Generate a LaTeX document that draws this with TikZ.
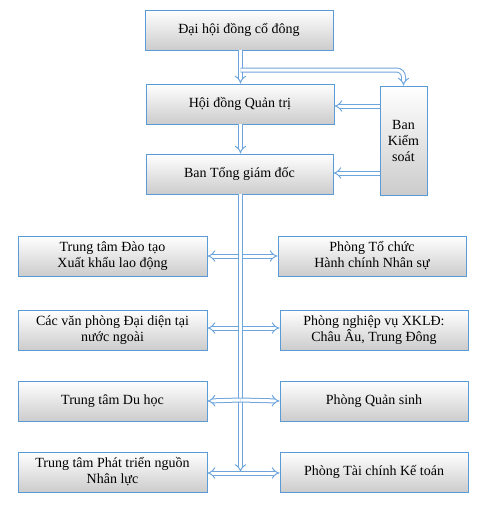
\documentclass[tikz,border=0pt]{standalone}
\usepackage{fontspec}
\setmainfont{Liberation Serif}
\usetikzlibrary{arrows.meta}
\definecolor{boxc}{RGB}{91,155,213}
\definecolor{arrc}{RGB}{110,165,220}
\begin{document}
\begin{tikzpicture}[x=1pt,y=-1pt,
  box/.style={draw=boxc, line width=0.9pt, top color=white, bottom color=black!20,
    align=center, inner sep=2pt, font=\fontsize{14}{16}\selectfont},
  dbl/.style={draw=arrc, double=white, double distance=3pt, line width=1pt,
    arrows={-Implies[length=5pt,width=10pt]}}]
\useasboundingbox (0,0) rectangle (488,512);
% boxes
\node[box, minimum width=188pt, minimum height=40pt] (dh) at (239,30) {Đại hội đồng cổ đông};
\node[box, minimum width=188pt, minimum height=40pt] (hd) at (240,104) {Hội đồng Quản trị};
\node[box, minimum width=187pt, minimum height=40pt] (tgd) at (239.5,174) {Ban Tổng giám đốc};
\node[box, minimum width=47pt, minimum height=109pt, inner sep=0pt] (bks) at (403.5,140.5) {Ban\\Kiểm\\soát};
\node[box, minimum width=189pt, minimum height=40pt] (l1) at (112.5,256) {Trung tâm Đào tạo\\Xuất khẩu lao động};
\node[box, minimum width=189pt, minimum height=40pt] (l2) at (112.5,330) {Các văn phòng Đại diện tại\\nước ngoài};
\node[box, minimum width=189pt, minimum height=40pt] (l3) at (112.5,401) {Trung tâm Du học};
\node[box, minimum width=189pt, minimum height=40pt] (l4) at (112.5,472) {Trung tâm Phát triển nguồn\\Nhân lực};
\node[box, minimum width=188pt, minimum height=40pt] (r1) at (372,256) {Phòng Tổ chức\\Hành chính Nhân sự};
\node[box, minimum width=188pt, minimum height=40pt] (r2) at (374,330) {Phòng nghiệp vụ XKLĐ:\\Châu Âu, Trung Đông};
\node[box, minimum width=188pt, minimum height=40pt] (r3) at (374,401) {Phòng Quản sinh};
\node[box, minimum width=188pt, minimum height=40pt] (r4) at (374,472) {Phòng Tài chính Kế toán};
% coordinates
\coordinate (b0) at (240.5,70);
\coordinate (k1) at (380,106);
\coordinate (k2) at (380,173);
\coordinate (ja) at (240.5,256);
\coordinate (jb) at (240.5,328);
\coordinate (jc) at (240.5,400);
\coordinate (jd) at (240.5,473);
\coordinate (je) at (240.5,472);
% top connectors
\draw[dbl] (dh.south -| b0) -- (hd.north -| b0);
\draw[dbl, rounded corners=7pt] (b0) -- (bks.north |- b0) -- (bks.north);
\draw[dbl] (hd.south -| b0) -- (tgd.north -| b0);
\draw[dbl] (k1) -- (hd.east |- k1);
\draw[dbl] (k2) -- (tgd.east |- k2);
% horizontals
\draw[dbl] (ja) -- (l1.east |- ja);
\draw[dbl] (ja) -- (r1.west |- ja);
\draw[dbl] (jb) -- (l2.east |- jb);
\draw[dbl] (jb) -- (r2.west |- jb);
\draw[dbl] (jd) -- (l4.east |- jd);
\draw[dbl] (jd) -- (r4.west |- jd);
% trunk
\draw[dbl] (tgd.south -| ja) -- (je);
\draw[dbl] (jc) -- (l3.east);
\draw[dbl] (jc) -- (r3.west);
\end{tikzpicture}
\end{document}
